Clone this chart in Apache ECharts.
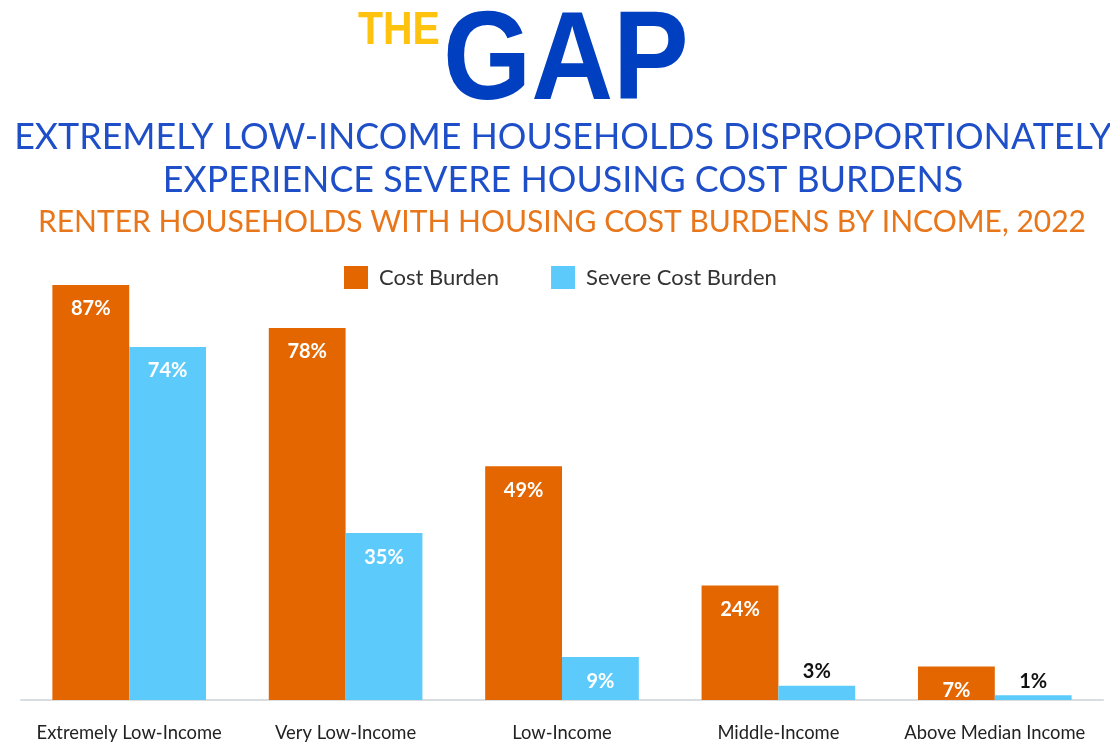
<!DOCTYPE html>
<html><head><meta charset="utf-8">
<script src="https://cdn.jsdelivr.net/npm/echarts@6/dist/echarts.min.js"></script>
<style>html,body{margin:0;padding:0;background:#fff}#c{width:1110px;height:742px}</style>
</head><body><div id="c"></div>
<script>
const categories = ['Extremely Low-Income','Very Low-Income','Low-Income','Middle-Income','Above Median Income'];
const costBurden = [87,78,49,24,7];
const severeCostBurden = [74,35,9,3,1];
const seriesNames = ['Cost Burden','Severe Cost Burden'];

const chart = echarts.init(document.getElementById('c'));
const insideLabel = {show:true, position:'insideTop', distance:14, color:'#fff', fontFamily:'Lato', fontWeight:'bold', fontSize:20, formatter:'{c}%'};
function sevLabel(v){
  return v < 5 ? {show:true, position:'top', distance:4, color:'#111', fontFamily:'Lato', fontWeight:'bold', fontSize:20, formatter:'{c}%'} : insideLabel;
}
chart.setOption({
  animation:false,
  title:[
    {text:'EXTREMELY LOW-INCOME HOUSEHOLDS DISPROPORTIONATELY\nEXPERIENCE SEVERE HOUSING COST BURDENS', left:558, top:111, textAlign:'center',
     textStyle:{color:'#1e4fc8', fontFamily:'Lato', fontWeight:'normal', fontSize:35.8, lineHeight:43, align:'center'}},
    {text:'RENTER HOUSEHOLDS WITH HOUSING COST BURDENS BY INCOME, 2022', left:557, top:202, textAlign:'center',
     textStyle:{color:'#e8761a', fontFamily:'Lato', fontWeight:'normal', fontSize:30}}
  ],
  graphic:[
    {type:'text', x:358, y:8, scaleX:0.89, style:{text:'THE', fill:'#FFC20E', font:'bold 46px "Liberation Sans"'}},
    {type:'text', x:443, y:1, scaleX:0.9, style:{text:'GAP', fill:'#0040C0', font:'bold 126px "Liberation Sans"'}}
  ],
  legend:{top:261, left:339, itemWidth:24, itemHeight:23, itemGap:52, icon:'rect',
    textStyle:{fontFamily:'Lato', fontSize:22, color:'#333', padding:[0,0,0,6]}, data:seriesNames},
  grid:{left:21, right:7, top:223, bottom:40},
  xAxis:{type:'category', data:categories,
    axisLine:{lineStyle:{color:'#d9dde0', width:2}}, axisTick:{show:false},
    axisLabel:{interval:0, fontFamily:'Lato', fontSize:18.4, color:'#222', margin:24}},
  yAxis:{type:'value', min:0, max:100, show:false, splitLine:{show:false}},
  series:[
    {name:seriesNames[0], type:'bar', data:costBurden, barGap:'0%', barCategoryGap:'29%',
     itemStyle:{color:'#E36600'}, label:insideLabel},
    {name:seriesNames[1], type:'bar', data:severeCostBurden.map(v=>({value:v, label:sevLabel(v)})),
     itemStyle:{color:'#5CCBFC'}}
  ]
});
</script></body></html>
